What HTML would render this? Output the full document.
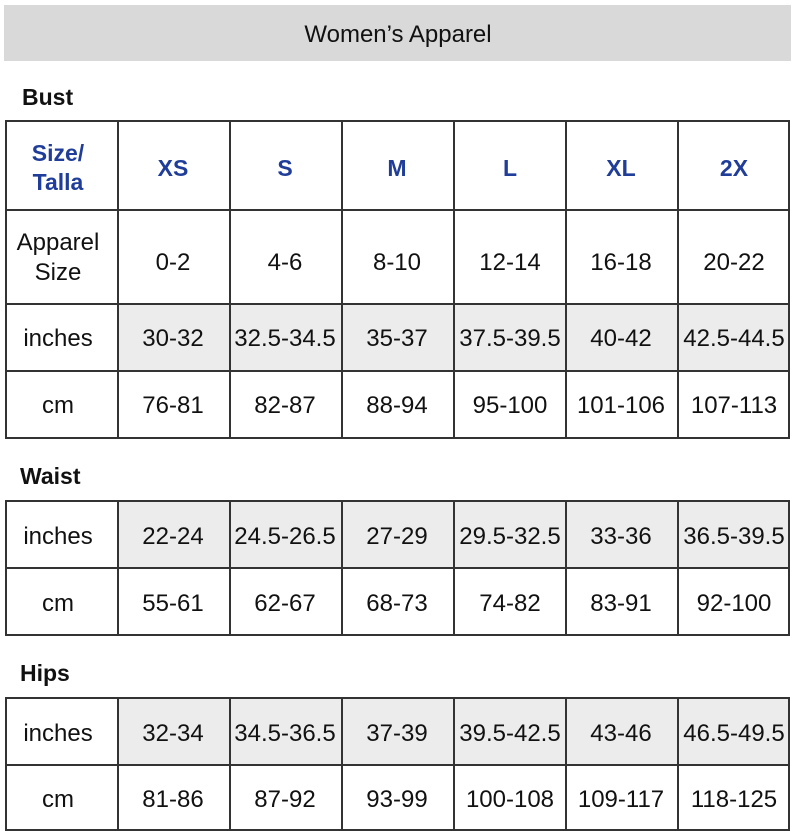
<!DOCTYPE html>
<html><head><meta charset="utf-8"><style>
html,body{margin:0;padding:0;background:#fff;}
svg{display:block;font-family:"Liberation Sans",Arial,sans-serif;}
</style></head><body>
<svg width="797" height="831" viewBox="0 0 797 831" xmlns="http://www.w3.org/2000/svg">
<rect x="0" y="0" width="797" height="831" fill="#fff"/>
<rect x="4" y="5" width="787" height="56" fill="#d9d9d9"/>
<text x="398" y="42" font-size="24" text-anchor="middle" fill="#111">Women’s Apparel</text>
<g font-weight="bold" font-size="23" fill="#111">
<text x="22" y="105">Bust</text>
<text x="20" y="484">Waist</text>
<text x="20" y="681">Hips</text>
</g>
<g fill="#ececec">
<rect x="118" y="304" width="671" height="67"/>
<rect x="118" y="501" width="671" height="67"/>
<rect x="118" y="698" width="671" height="67"/>
</g>
<g stroke="#333" stroke-width="2" fill="none">
<rect x="6" y="121" width="783" height="317"/>
<line x1="6" y1="210" x2="789" y2="210"/>
<line x1="6" y1="304" x2="789" y2="304"/>
<line x1="6" y1="371" x2="789" y2="371"/>
<rect x="6" y="501" width="783" height="134"/>
<line x1="6" y1="568" x2="789" y2="568"/>
<rect x="6" y="698" width="783" height="132"/>
<line x1="6" y1="765" x2="789" y2="765"/>
<path d="M118 121V438M230 121V438M342 121V438M454 121V438M566 121V438M678 121V438"/>
<path d="M118 501V635M230 501V635M342 501V635M454 501V635M566 501V635M678 501V635"/>
<path d="M118 698V830M230 698V830M342 698V830M454 698V830M566 698V830M678 698V830"/>
</g>
<g font-size="23" text-anchor="middle" fill="#1f3d99" font-weight="bold">
<text x="58" y="161">Size/</text>
<text x="58" y="190">Talla</text>
<text x="173" y="176">XS</text>
<text x="285" y="176">S</text>
<text x="397" y="176">M</text>
<text x="510" y="176">L</text>
<text x="621" y="176">XL</text>
<text x="734" y="176">2X</text>
</g>
<g font-size="24" text-anchor="middle" fill="#111">
<text x="58" y="250">Apparel</text>
<text x="58" y="280">Size</text>
<text x="173" y="270">0-2</text><text x="285" y="270">4-6</text><text x="397" y="270">8-10</text><text x="510" y="270">12-14</text><text x="621" y="270">16-18</text><text x="734" y="270">20-22</text>
<text x="58" y="346">inches</text>
<text x="173" y="346">30-32</text><text x="285" y="346">32.5-34.5</text><text x="397" y="346">35-37</text><text x="510" y="346">37.5-39.5</text><text x="621" y="346">40-42</text><text x="734" y="346">42.5-44.5</text>
<text x="58" y="413">cm</text>
<text x="173" y="413">76-81</text><text x="285" y="413">82-87</text><text x="397" y="413">88-94</text><text x="510" y="413">95-100</text><text x="621" y="413">101-106</text><text x="734" y="413">107-113</text>
<text x="58" y="544">inches</text>
<text x="173" y="544">22-24</text><text x="285" y="544">24.5-26.5</text><text x="397" y="544">27-29</text><text x="510" y="544">29.5-32.5</text><text x="621" y="544">33-36</text><text x="734" y="544">36.5-39.5</text>
<text x="58" y="611">cm</text>
<text x="173" y="611">55-61</text><text x="285" y="611">62-67</text><text x="397" y="611">68-73</text><text x="510" y="611">74-82</text><text x="621" y="611">83-91</text><text x="734" y="611">92-100</text>
<text x="58" y="741">inches</text>
<text x="173" y="741">32-34</text><text x="285" y="741">34.5-36.5</text><text x="397" y="741">37-39</text><text x="510" y="741">39.5-42.5</text><text x="621" y="741">43-46</text><text x="734" y="741">46.5-49.5</text>
<text x="58" y="807">cm</text>
<text x="173" y="807">81-86</text><text x="285" y="807">87-92</text><text x="397" y="807">93-99</text><text x="510" y="807">100-108</text><text x="621" y="807">109-117</text><text x="734" y="807">118-125</text>
</g>
</svg>
</body></html>
